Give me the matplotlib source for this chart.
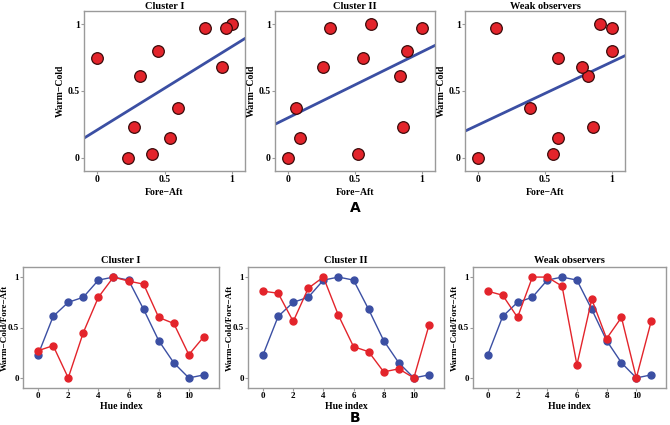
import matplotlib
matplotlib.use("Agg")
import matplotlib.pyplot as plt
import numpy as np

# Warm-Cold axis projection (same for every group)
hue_index = list(range(12))
warm_cold = [0.23, 0.61, 0.75, 0.80, 0.97, 1.0, 0.97, 0.68, 0.37, 0.15, 0.0, 0.03]

# Fore-Aft axis projection per group
titles = ["Cluster I", "Cluster II", "Weak observers"]
fore_aft_c1 = [0.27, 0.32, 0.0, 0.45, 0.80, 1.0, 0.96, 0.93, 0.60, 0.54, 0.23, 0.41]
fore_aft_c2 = [0.86, 0.84, 0.56, 0.89, 1.0, 0.62, 0.31, 0.26, 0.06, 0.09, 0.0, 0.52]
fore_aft_weak = [0.86, 0.82, 0.60, 1.0, 1.0, 0.91, 0.13, 0.78, 0.39, 0.60, 0.0, 0.56]
fore_aft = [fore_aft_c1, fore_aft_c2, fore_aft_weak]

RED = "#e3242b"
BLUE = "#3b4fa3"
FRAME = "#9a9a9a"
W, H = 670, 425

plt.rcParams["font.family"] = ["Liberation Serif", "DejaVu Serif"]
plt.rcParams["font.weight"] = "bold"

fig = plt.figure(figsize=(W / 100, H / 100), dpi=100)


def px_axes(x0, y0, x1, y1):
    return fig.add_axes([x0 / W, 1 - y1 / H, (x1 - x0) / W, (y1 - y0) / H])


def style(ax, size=7, pad=1.5):
    for s in ax.spines.values():
        s.set_color(FRAME)
        s.set_linewidth(1.0)
    ax.tick_params(direction="out", length=2, width=0.8, color=FRAME,
                   labelsize=size, pad=pad)
    for lab in ax.get_xticklabels() + ax.get_yticklabels():
        lab.set_fontweight("bold")


# A: scatter of Fore-Aft vs Warm-Cold with regression line
top_x = [(84, 245), (275, 435), (465, 625)]
for (x0, x1), title, fa in zip(top_x, titles, fore_aft):
    ax = px_axes(x0, 11, x1, 171)
    slope, icpt = np.polyfit(fa, warm_cold, 1)
    xs = np.array([-0.1, 1.1])
    ax.plot(xs, icpt + slope * xs, color=BLUE, lw=2, zorder=2)
    ax.scatter(fa, warm_cold, s=70, color=RED, edgecolor="#3a0a0a",
               linewidth=0.9, zorder=3)
    ax.set_xlim(-0.1, 1.1); ax.set_ylim(-0.1, 1.1)
    ax.set_xticks([0, 0.5, 1]); ax.set_xticklabels(["0", "0.5", "1"])
    ax.set_yticks([0, 0.5, 1]); ax.set_yticklabels(["0", "0.5", "1"])
    ax.set_title(title, fontsize=7.5, fontweight="bold", pad=1.5)
    ax.set_xlabel("Fore\u2212Aft", fontsize=7, fontweight="bold", labelpad=3)
    ax.set_ylabel("Warm\u2212Cold", fontsize=7, fontweight="bold")
    ax.yaxis.set_label_coords(-19 / (x1 - x0), 0.5)
    style(ax, pad=1)

# B: both projections against hue index
bot_x = [(23, 219), (248, 444), (473, 666)]
for (x0, x1), title, fa in zip(bot_x, titles, fore_aft):
    ax = px_axes(x0, 267, x1, 388)
    ax.plot(hue_index, warm_cold, "-o", color=BLUE, lw=1, ms=5, zorder=2)
    ax.plot(hue_index, fa, "-o", color=RED, lw=1, ms=5, zorder=3)
    ax.set_xlim(-1, 12); ax.set_ylim(-0.1, 1.1)
    ax.set_xticks(range(0, 11, 2))
    ax.set_yticks([0, 0.5, 1]); ax.set_yticklabels(["0", "0.5", "1"])
    ax.set_title(title, fontsize=7.5, fontweight="bold", pad=3)
    ax.set_xlabel("Hue index", fontsize=7, fontweight="bold", labelpad=1)
    ax.set_ylabel("Warm\u2212Cold/Fore\u2212Aft", fontsize=6.5, fontweight="bold")
    ax.yaxis.set_label_coords(-14 / (x1 - x0), 0.5)
    style(ax, size=6.5, pad=1)

fig.text(355 / W, 1 - 208 / H, "A", ha="center", va="center",
         fontsize=10, fontweight="bold", family="DejaVu Sans")
fig.text(355 / W, 1 - 418 / H, "B", ha="center", va="center",
         fontsize=10, fontweight="bold", family="DejaVu Sans")

fig.savefig("out.png", dpi=100)
